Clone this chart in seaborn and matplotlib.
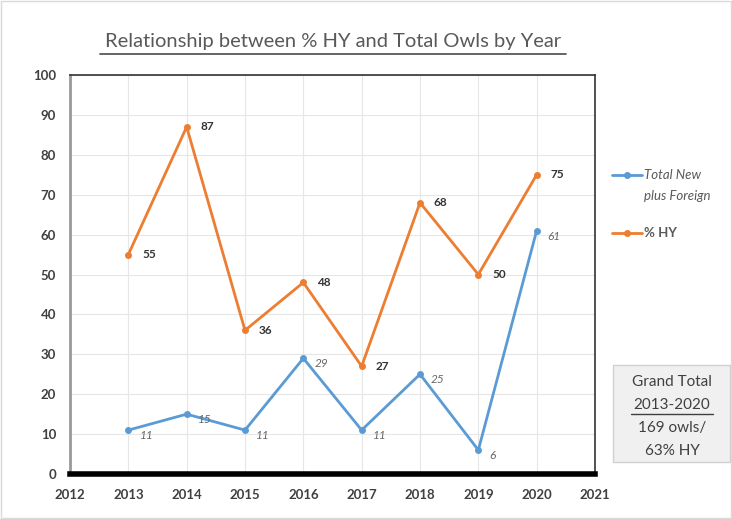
import matplotlib
matplotlib.use("Agg")
import matplotlib.pyplot as plt
import seaborn as sns
import pandas as pd
from matplotlib.patches import Rectangle

years = [2013, 2014, 2015, 2016, 2017, 2018, 2019, 2020]
total_new = [11, 15, 11, 29, 11, 25, 6, 61]
pct_hy = [55, 87, 36, 48, 27, 68, 50, 75]
series_names = ["Total New\nplus Foreign", "% HY"]
xticks = list(range(2012, 2022))
yticks = list(range(0, 101, 10))

sns.set_theme(style="white")
plt.rcParams['font.family'] = ['Lato', 'DejaVu Sans']

df = pd.DataFrame({
    "Year": years * 2,
    "Value": total_new + pct_hy,
    "Series": [series_names[0]] * len(years) + [series_names[1]] * len(years),
})

blue = "#5B9BD5"
orange = "#ED7D31"

fig = plt.figure(figsize=(7.32, 5.19), dpi=100)
ax = fig.add_axes([70/732, 1-474/519, (595-70)/732, (474-75)/519])

sns.lineplot(data=df, x="Year", y="Value", hue="Series", palette=[blue, orange],
             marker="o", markersize=5, markeredgewidth=0, linewidth=2, ax=ax, legend=False)

ax.set_xlim(2012, 2021)
ax.set_ylim(0, 100)
ax.set_xticks(xticks)
ax.set_yticks(yticks)
ax.set_xticklabels([str(t) for t in xticks], fontsize=9.5, fontweight="bold", color="#404040")
ax.set_yticklabels([str(t) for t in yticks], fontsize=9.5, fontweight="bold", color="#404040")
ax.tick_params(axis="x", length=0, pad=11)
ax.tick_params(axis="y", length=0, pad=10)
ax.set_xlabel("")
ax.set_ylabel("")
ax.grid(True, color="#e6e6e6", linewidth=0.8)
ax.set_axisbelow(True)

for s in ["top", "right"]:
    ax.spines[s].set_color("#333333")
    ax.spines[s].set_linewidth(1.2)
ax.spines["left"].set_color("#999999")
ax.spines["left"].set_linewidth(2)
ax.spines["bottom"].set_color("black")
ax.spines["bottom"].set_linewidth(4)

for x, v in zip(years, total_new):
    ax.annotate(str(v), (x, v), xytext=(8, -4), textcoords="offset points",
                fontsize=8.5, fontstyle="italic", color="#666666", va="center")
for x, v in zip(years, pct_hy):
    ax.annotate(str(v), (x, v), xytext=(10, 0), textcoords="offset points",
                fontsize=8.5, fontweight="bold", color="#333333", va="center")

# Legend (manual, outside axes)
fig.lines.append(plt.Line2D([612/732, 627/732, 642/732], [1-175/519]*3, color=blue, lw=2,
                            marker="o", markersize=4, markevery=[1], transform=fig.transFigure))
fig.text(644/732, 1-175/519, "Total New", fontsize=9.5, fontstyle="italic", color="#595959", va="center")
fig.text(644/732, 1-196/519, "plus Foreign", fontsize=9.5, fontstyle="italic", color="#595959", va="center")
fig.lines.append(plt.Line2D([612/732, 627/732, 642/732], [1-233/519]*3, color=orange, lw=2,
                            marker="o", markersize=4, markevery=[1], transform=fig.transFigure))
fig.text(644/732, 1-233/519, "% HY", fontsize=9.5, fontweight="bold", color="#595959", va="center")

# Title
fig.text(333/732, 1-42/519, "Relationship between % HY and Total Owls by Year", fontsize=14.5,
         color="#595959", ha="center", va="center")
fig.lines.append(plt.Line2D([100/732, 566/732], [1-54/519]*2, color="#595959", lw=1.3,
                            transform=fig.transFigure))

# Grand total box
fig.patches.append(Rectangle((613/732, 1-462/519), 117/732, 97/519, transform=fig.transFigure,
                             facecolor="#f0f0f0", edgecolor="#d0d0d0", lw=1))
cx = 672/732
fig.text(cx, 1-382/519, "Grand Total", fontsize=11, color="#404040", ha="center", va="center")
fig.text(cx, 1-405/519, "2013-2020", fontsize=11, color="#404040", ha="center", va="center")
fig.lines.append(plt.Line2D([631/732, 713/732], [1-414/519]*2, color="#404040", lw=1,
                            transform=fig.transFigure))
fig.text(cx, 1-428/519, "169 owls/", fontsize=11, color="#404040", ha="center", va="center")
fig.text(cx, 1-451/519, "63% HY", fontsize=11, color="#404040", ha="center", va="center")

# outer border
fig.patches.append(Rectangle((0.002, 0.002), 0.996, 0.996, transform=fig.transFigure,
                             facecolor="none", edgecolor="#d9d9d9", lw=1))

fig.savefig("out.png", dpi=100)
